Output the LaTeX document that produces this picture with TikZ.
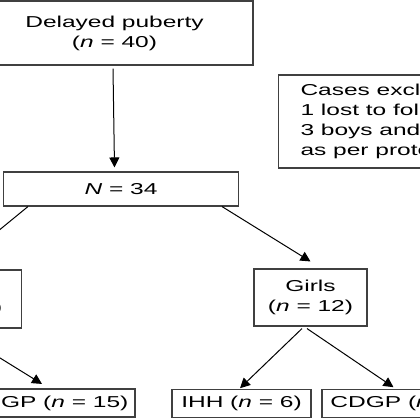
\documentclass[tikz,border=0pt]{standalone}
\usepackage{fontspec}
\setmainfont{Liberation Sans}[FakeStretch=1.55]
\usepackage{tikz}
\usetikzlibrary{arrows.meta, positioning, calc}
\newcommand{\chartfont}{\fontsize{15.8}{20}\selectfont}
\tikzset{
  % Flowchart styles
  box/.style={rectangle, draw=black!75, line width=1.1pt, text centered, align=center, inner sep=0pt, font=\chartfont},
  notebox/.style={rectangle, draw=black!75, line width=1.1pt, align=left, inner xsep=22pt, inner ysep=0pt, font=\chartfont},
  arrow/.style={-{Triangle[length=10pt, width=10pt]}, line width=1pt},
}
\begin{document}
\begin{tikzpicture}[x=1pt, y=-1pt]
    \useasboundingbox (0,0) rectangle (420,420);
    \clip (0,0) rectangle (420,420);

    % Start
    \node[box, minimum width=277pt, minimum height=64pt] (start) at (114.5,33) {Delayed puberty\\(\textit{n} = 40)};

    % Excluded cases
    \node[notebox, anchor=west, minimum height=93pt] (excl) at (278,121.5) {Cases excluded\\1 lost to follow-up\\3 boys and 2 girls excluded\\as per protocol};

    % Total
    \node[box, minimum width=234.5pt, minimum height=34pt] (total) at (121,189) {\textit{N} = 34};

    % Boys and girls
    \node[box, minimum width=124pt, minimum height=58pt] (boys) at (-40.3,299) {Boys\\(\textit{n} = 22)};
    \node[box, minimum width=113pt, minimum height=57pt] (girls) at (310.5,297.5) {Girls\\(\textit{n} = 12)};

    % Diagnoses
    \node[box, minimum width=176pt, minimum height=28pt] (cdgpb) at (47,403) {CDGP (\textit{n} = 15)};
    \node[box, minimum width=139pt, minimum height=27.5pt] (ihhg) at (241.5,403.5) {IHH (\textit{n} = 6)};
    \node[box, minimum width=166pt, minimum height=27.5pt] (cdgpg) at (405,403.5) {CDGP (\textit{n} = 6)};

    % Arrows
    \draw[arrow] ([xshift=-1.5pt, yshift=-3pt]start.south) -- ([yshift=4pt]start.south |- total.north);
    \draw[arrow] ([xshift=-93pt]total.south) -- ([yshift=7pt]boys.north);
    \draw[arrow] ([xshift=101pt]total.south) -- ([yshift=7pt]girls.north);
    \draw[arrow] ([xshift=-4pt, yshift=-2pt]boys.south) -- ([xshift=-5pt, yshift=4.5pt]cdgpb.north);
    \draw[arrow] ([xshift=-8.5pt, yshift=-2pt]girls.south) -- ([xshift=-1.5pt, yshift=1pt]ihhg.north);
    \draw[arrow] ([xshift=-3.5pt, yshift=-2pt]girls.south) -- ([xshift=-11.5pt, yshift=2pt]cdgpg.north);
  \end{tikzpicture}
\end{document}
